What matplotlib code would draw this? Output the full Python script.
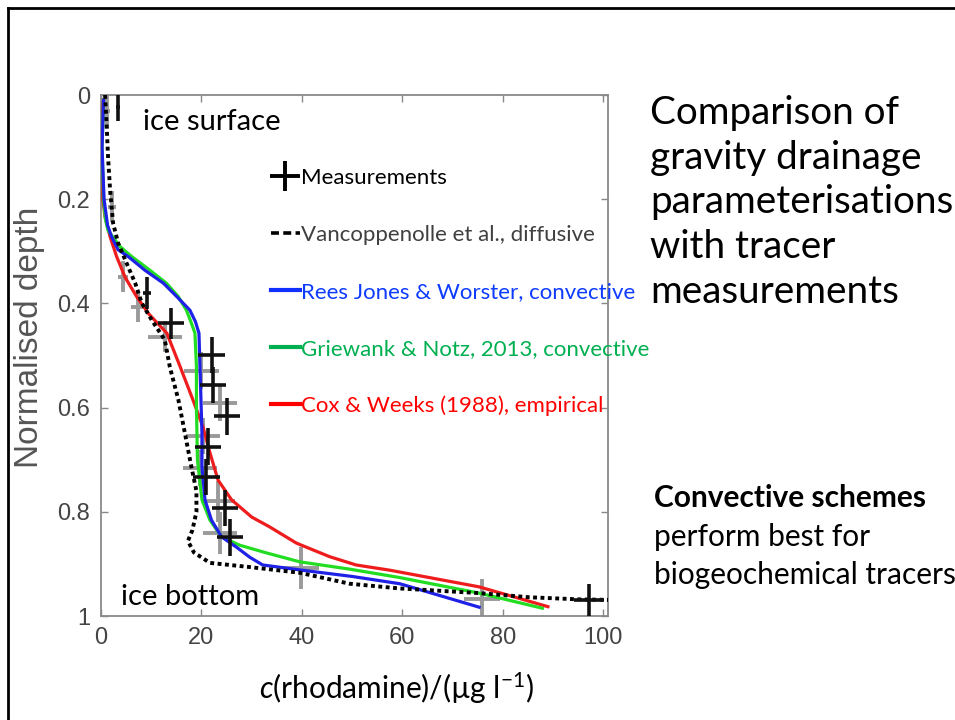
import numpy as np
import matplotlib
matplotlib.use('Agg')
import matplotlib.pyplot as plt
from matplotlib.lines import Line2D

plt.rcParams['mathtext.fontset'] = 'custom'
plt.rcParams['mathtext.rm'] = 'Lato'
plt.rcParams['mathtext.it'] = 'Lato:italic'

# model profiles: concentration (ug/l) vs normalised depth
vanc_d = [0.0, 0.054, 0.119, 0.182, 0.246, 0.284, 0.323, 0.361, 0.399, 0.432, 0.47, 0.522,
          0.585, 0.649, 0.714, 0.76, 0.80, 0.835, 0.856, 0.878, 0.898, 0.906, 0.917, 0.938,
          0.947, 0.956, 0.964, 0.968, 0.969]
vanc_c = [0.8, 1.1, 1.4, 1.8, 2.4, 3.4, 5.1, 6.8, 8.1, 10.1, 12.7, 13.7,
          15.4, 16.7, 18.0, 19.0, 19.0, 18.2, 17.3, 18.5, 21.7, 29.6, 39.6, 49.5,
          59.4, 75.3, 85.3, 95.2, 101.0]

rees_d = [0.01, 0.1, 0.2, 0.25, 0.272, 0.297, 0.31, 0.336, 0.361, 0.387, 0.413, 0.435, 0.457,
          0.52, 0.585, 0.65, 0.714, 0.777, 0.816, 0.848, 0.868, 0.887, 0.902, 0.912, 0.924,
          0.938, 0.983]
rees_c = [0.5, 0.2, 0.6, 1.3, 2.1, 3.4, 5.4, 8.7, 12.4, 15.1, 17.7, 18.8, 19.5,
          19.7, 19.9, 20.1, 20.1, 20.7, 22.0, 24.0, 27.0, 29.6, 32.2, 40.0, 50.0,
          59.5, 75.3]

grie_d = [0.01, 0.1, 0.2, 0.24, 0.26, 0.291, 0.31, 0.336, 0.361, 0.387, 0.413, 0.438, 0.457,
          0.52, 0.6, 0.7, 0.777, 0.816, 0.848, 0.864, 0.879, 0.896, 0.910, 0.926, 0.956, 0.985]
grie_c = [0.5, 0.2, 0.5, 0.9, 1.4, 3.8, 6.1, 9.7, 13.0, 15.4, 17.0, 18.0, 18.7,
          19.0, 19.0, 19.2, 20.1, 21.7, 24.0, 27.6, 33.0, 39.6, 49.5, 59.4, 75.3, 87.9]

cox_d = [0.01, 0.05, 0.12, 0.18, 0.234, 0.272, 0.31, 0.35, 0.387, 0.42, 0.457, 0.52, 0.585,
         0.637, 0.687, 0.739, 0.777, 0.81, 0.829, 0.86, 0.886, 0.902, 0.912, 0.944, 0.982]
cox_c = [0.5, 0.0, 0.0, 0.1, 0.8, 1.8, 3.1, 4.8, 7.1, 9.5, 13.1, 15.7, 18.3,
         20.3, 21.7, 23.3, 26.0, 30.0, 33.6, 38.9, 45.5, 50.8, 57.5, 75.3, 89.0]

# measurements (two sets)
meas_c = [3.4, 9.1, 14.0, 22.0, 22.3, 25.0, 21.3, 21.0, 24.7, 25.6, 97.1]
meas_d = [0.022, 0.38, 0.438, 0.499, 0.557, 0.617, 0.675, 0.733, 0.793, 0.849, 0.969]
meas_xerr = [0.4, 0.8, 2.6, 2.6, 2.6, 2.6, 2.6, 2.6, 2.6, 2.6, 3.0]
meas_yerr = [0.028, 0.03, 0.03, 0.035, 0.035, 0.035, 0.035, 0.035, 0.035, 0.035, 0.03]

meas2_c = [1.1, 2.1, 4.4, 7.4, 12.7, 20.0, 23.7, 20.3, 19.7, 23.3, 23.7, 39.9, 75.9]
meas2_d = [0.03, 0.214, 0.349, 0.406, 0.464, 0.529, 0.591, 0.654, 0.716, 0.78, 0.841, 0.908, 0.968]
meas2_xerr = [0.6, 0.8, 1.0, 1.5, 3.4, 3.4, 3.4, 3.4, 3.4, 3.4, 3.4, 3.6, 3.6]
meas2_yerr = [0.035, 0.03, 0.03, 0.03, 0.03, 0.035, 0.035, 0.035, 0.035, 0.04, 0.04, 0.04, 0.04]

labels = ['Measurements', 'Vancoppenolle et al., diffusive', 'Rees Jones & Worster, convective',
          'Griewank & Notz, 2013, convective', 'Cox & Weeks (1988), empirical']
label_colors = ['black', '#404040', '#0d3bff', '#00b050', '#ff0000']

blue = '#1f22e6'
green = '#22dd22'
red = '#ee1c1c'

fig = plt.figure(figsize=(9.55, 7.2), dpi=100)
ax = fig.add_axes([0.1058, 0.1444, 0.5305, 0.7236])

ax.errorbar(meas2_c, meas2_d, xerr=meas2_xerr, yerr=meas2_yerr, fmt='none',
            ecolor='#9a9a9a', elinewidth=2.8, capsize=0, zorder=2)
ax.plot(cox_c, cox_d, color=red, lw=2.3, zorder=3)
ax.plot(grie_c, grie_d, color=green, lw=2.3, zorder=3)
ax.plot(rees_c, rees_d, color=blue, lw=2.3, zorder=3)
ax.plot(vanc_c, vanc_d, color='black', lw=2.8, dashes=(1.0, 0.9), zorder=4)
ax.errorbar(meas_c, meas_d, xerr=meas_xerr, yerr=meas_yerr, fmt='none',
            ecolor='#111111', elinewidth=2.6, capsize=0, zorder=5)

ax.set_xlim(0, 100.9)
ax.set_ylim(1, 0)
ax.set_xticks([0, 20, 40, 60, 80, 100])
ax.set_yticks([0, 0.2, 0.4, 0.6, 0.8, 1])
ax.set_yticklabels(['0', '0.2', '0.4', '0.6', '0.8', '1'])
ax.tick_params(direction='in', length=5, width=1, color='#888888', top=True, right=True,
               labelsize=17, labelcolor='#444444', pad=8)
for lab in ax.get_xticklabels() + ax.get_yticklabels():
    lab.set_family('Liberation Sans')
for s in ax.spines.values():
    s.set_color('#8a8a8a')
    s.set_linewidth(1.3)

ax.set_ylabel('Normalised depth', fontsize=24, color='#555555', family='Liberation Sans')
ax.yaxis.set_label_coords(-0.11, 0.535)
ax.set_xlabel(r'$c$(rhodamine)/(µg l$^{−1}$)', fontsize=21.5, color='black',
              family=['Lato', 'DejaVu Sans'])
ax.xaxis.set_label_coords(0.584, -0.105)

ax.text(0.083, 0.948, 'ice surface', transform=ax.transAxes, fontsize=21,
        family='Lato', va='center', ha='left')
ax.text(0.039, 0.036, 'ice bottom', transform=ax.transAxes, fontsize=21,
        family='Lato', va='center', ha='left')

handles = [Line2D([], [], color='black', marker='+', markersize=22, mew=2.8, ls='none'),
           Line2D([], [], color='black', lw=2.6, dashes=(2.2, 1.2)),
           Line2D([], [], color='#1030ff', lw=3),
           Line2D([], [], color='#00b050', lw=3),
           Line2D([], [], color='#ff0000', lw=3)]
leg = ax.legend(handles, labels, loc='upper left', bbox_to_anchor=(0.335, 0.860),
                frameon=False, handlelength=1.3, handletextpad=0.05,
                labelspacing=1.66, borderpad=0, borderaxespad=0,
                labelcolor=label_colors, prop={'family': 'Lato', 'size': 16})

fig.text(0.681, 0.868, 'Comparison of\ngravity drainage\nparameterisations\nwith tracer\nmeasurements',
         fontsize=27.8, family='Lato', va='top', ha='left', linespacing=1.3)
fig.text(0.685, 0.308, 'Convective schemes', fontsize=21.5, family='Lato', weight='bold',
         va='center', ha='left')
fig.text(0.685, 0.254, 'perform best for', fontsize=21.5, family='Lato',
         va='center', ha='left')
fig.text(0.685, 0.201, 'biogeochemical tracers', fontsize=21.5, family='Lato',
         va='center', ha='left')

# slide frame
fig.add_artist(Line2D([0.0084, 1.0], [0.989, 0.989], color='black', lw=2, transform=fig.transFigure))
fig.add_artist(Line2D([0.0084, 0.0084], [0.0, 0.989], color='black', lw=2, transform=fig.transFigure))

fig.savefig('out.png', dpi=100)
